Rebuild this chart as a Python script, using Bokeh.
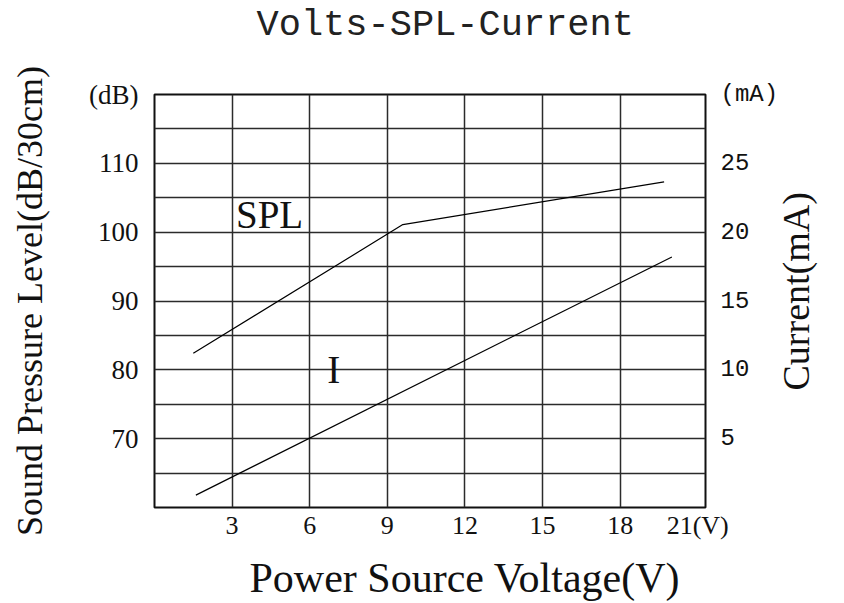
import math
from bokeh.plotting import figure
from bokeh.models import Range1d, LinearAxis, FixedTicker, Label, Title
from bokeh.embed import file_html
from bokeh.resources import INLINE

# ---- data ----
volts_spl = [1.5, 9.6, 19.7]
spl_db = [82.4, 101.1, 107.3]
volts_i = [1.6, 20.0]
current_ma = [0.9, 18.2]

x_ticks = [3, 6, 9, 12, 15, 18, 21]
x_grid = [3, 6, 9, 12, 15, 18]
spl_ticks = [70, 80, 90, 100, 110, 120]
spl_grid = [65, 70, 75, 80, 85, 90, 95, 100, 105, 110, 115]
ma_ticks = [5, 10, 15, 20, 25, 30]

x_title = "Power Source Voltage(V)"
y_title = "Sound Pressure Level(dB/30cm)"
y2_title = "Current(mA)"

SERIF = "Liberation Serif"
MONO = "Liberation Mono"

p = figure(width=844, height=603, output_backend="svg", toolbar_location=None,
           title=None,
           x_range=Range1d(0, 21.3), y_range=Range1d(60, 120),
           min_border_left=154, min_border_right=139,
           min_border_top=94, min_border_bottom=96,
           background_fill_color="white", border_fill_color="white")
p.extra_y_ranges = {"ma": Range1d(0, 30)}

# spacer above the frame, then the title further out
p.add_layout(Title(text=" ", text_font_size="10px", standoff=36), "above")
p.add_layout(Title(text="Volts-SPL-Current", text_font=MONO, text_font_size="37px",
                   text_font_style="normal", text_color="#222222",
                   align="left", offset=102, standoff=0), "above")

# right axes: tick labels, then the axis title (as a single placed label)
raxis = LinearAxis(y_range_name="ma")
p.add_layout(raxis, "right")
raxis_title = LinearAxis()
p.add_layout(raxis_title, "right")
# x axis title as a single placed label under the tick labels
xaxis_title = LinearAxis()
p.add_layout(xaxis_title, "below")

for ax in [p.xaxis[0], p.yaxis[0], raxis, raxis_title, xaxis_title]:
    ax.axis_line_color = None
    ax.major_tick_line_color = None
    ax.minor_tick_line_color = None
    ax.major_tick_out = 0
    ax.major_tick_in = 0
    ax.minor_tick_out = 0
    ax.minor_tick_in = 0
    ax.major_label_text_color = "#111111"
    ax.axis_label_text_color = "#111111"
    ax.axis_label_text_font = SERIF
    ax.axis_label_text_font_style = "normal"
    ax.axis_label_text_font_size = "36px"

bottom_axis = p.xaxis[0]
bottom_axis.ticker = FixedTicker(ticks=x_ticks)
bottom_axis.major_label_overrides = {21: "21(V)"}
bottom_axis.major_label_text_font = SERIF
bottom_axis.major_label_text_font_size = "26px"
bottom_axis.major_label_standoff = 3

xaxis_title.ticker = FixedTicker(ticks=[12])
xaxis_title.major_label_overrides = {12: x_title}
xaxis_title.major_label_text_font = SERIF
xaxis_title.major_label_text_font_size = "42px"
xaxis_title.major_label_standoff = 12

p.yaxis[0].ticker = FixedTicker(ticks=spl_ticks)
p.yaxis[0].major_label_overrides = {120: "(dB)"}
p.yaxis[0].major_label_text_font = SERIF
p.yaxis[0].major_label_text_font_size = "27px"
p.yaxis[0].major_label_standoff = 16
p.yaxis[0].axis_label = y_title
p.yaxis[0].axis_label_standoff = 36

raxis.ticker = FixedTicker(ticks=ma_ticks)
raxis.major_label_overrides = {30: "(mA)"}
raxis.major_label_text_font = MONO
raxis.major_label_text_font_size = "24px"
raxis.major_label_standoff = 15
raxis.major_label_orientation = "horizontal"

raxis_title.ticker = FixedTicker(ticks=[77])
raxis_title.major_label_overrides = {77: y2_title}
raxis_title.major_label_text_font = SERIF
raxis_title.major_label_text_font_size = "38px"
raxis_title.major_label_orientation = math.pi / 2
raxis_title.major_label_standoff = 15

# grid
p.xgrid.ticker = FixedTicker(ticks=x_grid)
p.ygrid.ticker = FixedTicker(ticks=spl_grid)
for g in [p.xgrid[0], p.ygrid[0]]:
    g.grid_line_color = "#2b2b2b"
    g.grid_line_width = 1.5
    g.grid_line_alpha = 1.0

p.outline_line_color = "#111111"
p.outline_line_width = 2
p.outline_line_alpha = 1.0

# data lines
p.line(volts_spl, spl_db, line_color="black", line_width=1.2)
p.line(volts_i, current_ma, y_range_name="ma", line_color="black", line_width=1.2)

# in-plot series labels
p.add_layout(Label(x=3.15, y=102.6, text="SPL", text_font=SERIF,
                   text_font_size="39px", text_color="#111111",
                   text_align="left", text_baseline="middle"))
p.add_layout(Label(x=6.93, y=80.0, text="I", text_font=SERIF,
                   text_font_size="39px", text_color="#111111",
                   text_align="center", text_baseline="middle"))

open("out.html", "w").write(file_html(p, INLINE))
